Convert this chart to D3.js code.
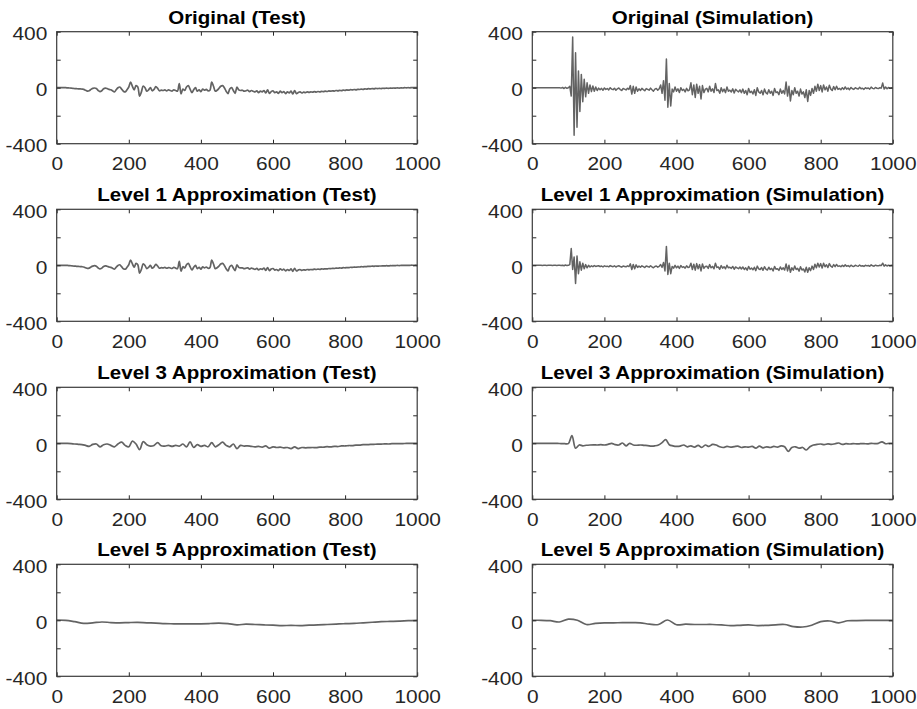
<!DOCTYPE html>
<html><head><meta charset="utf-8">
<script src="https://cdn.jsdelivr.net/npm/d3@7"></script>
<style>body{margin:0;background:#fff}svg{display:block}</style>
</head><body>
<svg id="c" width="917" height="709"></svg>
<script>
// ---- data ----
const xTicks = [0, 200, 400, 600, 800, 1000];
const yTicks = [-400, -200, 0, 200, 400];
const yTickLabels = ["-400", "", "0", "", "400"];
const titles = [
  "Original (Test)", "Original (Simulation)",
  "Level 1 Approximation (Test)", "Level 1 Approximation (Simulation)",
  "Level 3 Approximation (Test)", "Level 3 Approximation (Simulation)",
  "Level 5 Approximation (Test)", "Level 5 Approximation (Simulation)"
];

// Original (Test), samples every 5
const testOriginal = [0,0,0,0,0,0,-1,-2,-3,-5,-6,-7,-8,-8,-10,
-12,-18,-24,-22,-12,-5,-2,-6,-20,-28,-22,-8,-3,-6,-12,-15,-22,-30,-15,0,5,-10,-25,-30,-15,5,
40,10,-15,15,5,-60,-30,12,0,-25,-15,0,-22,-12,8,-5,-22,-18,-20,-15,
-22,-16,-20,-24,-15,-20,-25,30,-45,-10,-20,5,15,-10,-35,-15,0,-25,-15,-28,
-10,-18,-12,-22,-18,40,10,-25,-18,-5,10,15,0,-25,-42,-10,0,-20,-40,5,
-15,-20,-18,-25,-22,-18,-28,-20,-25,-30,-22,-35,-25,-30,-20,-38,-15,-40,-28,-22,
-35,-30,-40,-25,-35,-28,-42,-30,-38,-25,-45,-20,-42,-35,-30,-38,-32,-35,-30,-33,
-30,-32,-28,-31,-27,-30,-26,-28,-25,-27,-23,-25,-22,-24,-20,-22,-19,-21,-17,-19,
-16,-18,-14,-16,-13,-15,-12,-13,-10,-12,-9,-10,-7,-9,-6,-8,-5,-7,-5,-6,
-4,-5,-3,-5,-3,-4,-2,-3,-1,-3,-1,-2,0,-1,0,-1,1,0,1,0];

// Original (Simulation), samples every 4
const simOriginal = [0,0,0,0,-1,0,0,-1,0,0,-1,0,-1,0,0,-1,0,-1,0,-1,
-3,2,-6,3,-4,0,
10,-60,362,-340,250,-282,120,-170,95,-100,60,-65,35,-40,20,-28,12,-25,5,-20,
-3,-15,-5,-18,-2,-12,-6,-16,0,-10,-14,-4,-18,-8,-2,-13,-20,-6,-10,-16,-4,-12,
15,-45,10,-40,5,-25,
-8,-20,-5,-14,-22,-6,-12,-18,-3,-15,-25,-10,-5,-18,-8,
20,-40,50,-90,205,-140,30,-130,
-10,-30,5,-25,-8,-35,0,-20,-12,-30,-5,-22,-15,
35,-50,20,-70,25,-40,10,-80,15,-35,-10,
-5,-30,10,-25,-8,-35,30,-20,-15,-40,0,-28,-10,-35,5,-25,-18,-30,-8,-38,-12,-22,-30,-15,-35,
-10,-40,-20,-50,-5,-35,-25,-45,-15,-55,0,-30,-40,-20,-50,-10,-35,-45,-15,-40,-25,-55,-5,-35,-30,-50,-10,-40,-20,-45,
40,-60,10,-95,-20,-50,0,-40,-25,-60,-10,-45,-30,-70,-15,-98,-20,-55,-5,-40,
10,-25,25,-20,15,-30,20,-15,5,-25,18,-10,-20,8,-15,10,-12,
-5,-15,0,-12,5,-10,-3,-14,2,-8,-12,0,-6,-10,3,-8,-4,-12,0,-6,-2,-10,4,-5,-8,2,-4,-6,0,-3,33,-10,5,-8,2,-4,0,-2];

// Level 1 Approximation (Test), samples every 5
const testLevel1 = [0,0,0,0,0,-1,-1,-2,-3,-5,-6,-7,-8,-9,-10,
-12,-17,-22,-20,-12,-6,-3,-7,-19,-26,-20,-9,-4,-7,-12,-15,-21,-28,-14,-1,4,-10,-24,-28,-14,4,
38,10,-14,14,4,-56,-28,10,-1,-24,-14,-1,-21,-11,7,-5,-21,-17,-19,-15,
-21,-16,-19,-23,-15,-20,-24,28,-42,-10,-19,4,14,-10,-33,-14,-1,-24,-15,-27,
-11,-18,-12,-21,-17,38,9,-24,-17,-6,9,14,-1,-24,-40,-10,-1,-19,-38,4,
-15,-19,-18,-24,-21,-18,-27,-20,-24,-29,-22,-33,-25,-29,-20,-36,-16,-38,-27,-23,
-34,-30,-38,-26,-34,-28,-40,-30,-37,-26,-43,-21,-40,-34,-30,-36,-32,-34,-30,-32,
-30,-31,-28,-30,-27,-29,-26,-27,-25,-26,-23,-24,-22,-23,-20,-21,-19,-20,-17,-18,
-16,-17,-14,-15,-13,-14,-12,-12,-10,-11,-9,-9,-7,-8,-6,-7,-5,-6,-5,-5,
-4,-4,-3,-4,-3,-3,-2,-2,-1,-2,-1,-1,0,0,0,0,1,0,1,0];

// Level 1 Approximation (Simulation), samples every 4
const simLevel1 = [0,0,0,0,0,0,0,-1,0,0,-1,0,0,0,-1,0,0,-1,0,0,-2,1,-3,2,-2,0,
5,120,-30,60,-130,67,-60,25,-35,15,-25,5,-18,0,-12,-4,-10,-2,-8,-5,
-3,-10,-5,-12,-4,-8,-6,-11,-2,-7,-10,-4,-12,-6,-3,-9,-13,-5,-8,-11,-4,-9,
10,-30,6,-25,3,-15,
-6,-14,-4,-10,-16,-5,-9,-13,-3,-11,-18,-8,-5,-13,-7,
5,-15,20,-40,135,-65,15,-60,
-8,-20,0,-18,-6,-22,-2,-15,-10,-20,-4,-16,-12,
15,-30,8,-35,12,-25,5,-40,10,-22,-8,
-6,-22,5,-18,-8,-25,15,-15,-12,-28,-2,-20,-10,-25,0,-18,-14,-22,-8,-28,-12,-18,-24,-12,-26,
-12,-30,-18,-35,-8,-28,-20,-32,-14,-38,-6,-25,-30,-16,-36,-10,-28,-34,-14,-30,-22,-40,-8,-28,-24,-36,-12,-30,-18,-34,
10,-40,0,-50,-18,-35,-5,-30,-22,-42,-10,-34,-26,-48,-14,-50,-18,-38,-6,-30,
8,-18,15,-12,12,-20,15,-10,4,-16,12,-6,-14,5,-10,6,-8,
-4,-10,0,-8,3,-7,-2,-10,1,-6,-8,0,-4,-7,2,-6,-3,-8,0,-4,-1,-7,3,-4,-6,1,-3,-4,0,-2,15,-6,3,-5,1,-3,0,-1];

// Level 3 Approximation (Test), samples every 10
const testLevel3 = [0,0,0,0,-2,-5,-7,-9,-15,-22,
-8,-5,-25,-10,-5,-15,-25,-5,8,-15,
-25,15,-5,-45,12,-10,-20,-15,5,-18,
-20,-15,-22,-15,-20,-5,-25,10,-30,-10,
-22,-15,-25,5,-25,-10,8,-15,-25,-5,
-38,-15,-20,-18,-22,-25,-22,-28,-18,-35,
-25,-30,-28,-32,-30,-38,-25,-38,-30,-32,
-31,-30,-31,-27,-28,-24,-26,-22,-23,-19,
-19,-16,-16,-13,-13,-10,-10,-8,-7,-6,
-6,-4,-5,-3,-3,-2,-2,-1,-1,0,
0];

// Level 3 Approximation (Simulation), samples every 10
const simLevel3 = [0,0,0,0,0,0,0,-1,-2,-3,
-2,55,-35,-12,-18,-14,-12,-11,-12,-10,
-12,-8,0,-10,-12,2,-18,0,-12,-14,
-12,-15,-16,-20,-18,-12,5,26,-10,-18,
-22,-20,-12,-25,-18,-28,-15,-30,-12,-22,
-8,-12,-25,-30,-22,-28,-24,-20,-30,-25,
-28,-22,-35,-20,-32,-25,-30,-22,-28,-18,
-25,-58,-30,-25,-35,-30,-48,-25,-12,-8,
-5,-10,-4,-8,-3,2,-8,-3,-5,-2,
-4,-3,-2,-4,-1,-2,0,10,-3,0,
0];

// Level 5 Approximation, samples every 25
const testLevel5 = [2,0,-10,-22,-18,-12,-16,-18,-16,-15,-18,-20,-24,-25,-26,-26,-25,-23,-20,-24,-32,
-28,-30,-33,-35,-38,-36,-38,-35,-33,-30,-27,-24,-22,-18,-14,-10,-8,-6,-3,0];
const simLevel5 = [0,0,-3,-12,8,0,-30,-22,-18,-18,-17,-17,-18,-28,-30,2,-32,-28,-30,-30,-30,
-33,-38,-36,-33,-38,-36,-32,-30,-45,-48,-35,-10,-5,-18,-3,-2,-1,-1,0,0];

const seriesList = [testOriginal, simOriginal, testLevel1, simLevel1, testLevel3, simLevel3, testLevel5, simLevel5];
const noisy = [false, true, false, true, false, false, false, false];

// ---- layout ----
const colX = [56.7, 532.3];
const rowY = [31.7, 209.3, 387.3, 564.3];
const W = 360.5, H = 112;
const lineColor = "#636363";
const axisColor = "#262626";
const tickFont = "'Liberation Sans', Arial, sans-serif";

const svg = d3.select("#c");
svg.append("rect").attr("width", 917).attr("height", 709).attr("fill", "#fff");

seriesList.forEach((data, k) => {
  const r = Math.floor(k / 2), c = k % 2;
  const g = svg.append("g").attr("transform", `translate(${colX[c]},${rowY[r]})`);
  const x = d3.scaleLinear().domain([0, 1000]).range([0, W]);
  const y = d3.scaleLinear().domain([-400, 400]).range([H, 0]);
  const step = 1000 / (data.length - 1);

  const line = d3.line()
    .x((d, i) => x(i * step))
    .y(d => y(d))
    .curve(noisy[k] ? d3.curveLinear : d3.curveCatmullRom);

  g.append("path").datum(data)
    .attr("fill", "none").attr("stroke", lineColor)
    .attr("stroke-width", noisy[k] ? 1.5 : 1.7).attr("stroke-linejoin", "round")
    .attr("d", line);

  // axes
  const ax = g.append("g").attr("transform", `translate(0,${H})`)
    .call(d3.axisBottom(x).tickValues(xTicks).tickSizeInner(-4).tickSizeOuter(0).tickFormat(d => String(d)));
  const axT = g.append("g")
    .call(d3.axisTop(x).tickValues(xTicks).tickSizeInner(-4).tickSizeOuter(0).tickFormat(""));
  const ay = g.append("g")
    .call(d3.axisLeft(y).tickValues(yTicks).tickSizeInner(-4).tickSizeOuter(0).tickFormat((d, i) => yTickLabels[i]));
  const ayR = g.append("g").attr("transform", `translate(${W},0)`)
    .call(d3.axisRight(y).tickValues(yTicks).tickSizeInner(-4).tickSizeOuter(0).tickFormat(""));

  [ax, axT, ay, ayR].forEach(a => {
    a.select(".domain").remove();
    a.selectAll("line").attr("stroke", axisColor).attr("stroke-width", 1);
  });
  ax.selectAll("text")
    .attr("y", 26.5).attr("dy", 0)
    .attr("fill", axisColor).attr("font-family", tickFont).attr("font-size", 19)
    .attr("transform", "scale(1.1,1)");
  ay.selectAll("text")
    .attr("x", -8.5).attr("dy", "0.36em").attr("y", 1)
    .attr("fill", axisColor).attr("font-family", tickFont).attr("font-size", 19)
    .attr("transform", "scale(1.1,1)");

  g.append("rect").attr("width", W).attr("height", H)
    .attr("fill", "none").attr("stroke", "#3a3a3a").attr("stroke-width", 1.2);

  g.append("text")
    .attr("transform", `translate(${W / 2},-8) scale(1.14,1)`)
    .attr("text-anchor", "middle")
    .attr("font-family", tickFont).attr("font-weight", "bold").attr("font-size", 18)
    .attr("fill", "#000")
    .text(titles[k]);
});
</script>
</body></html>
